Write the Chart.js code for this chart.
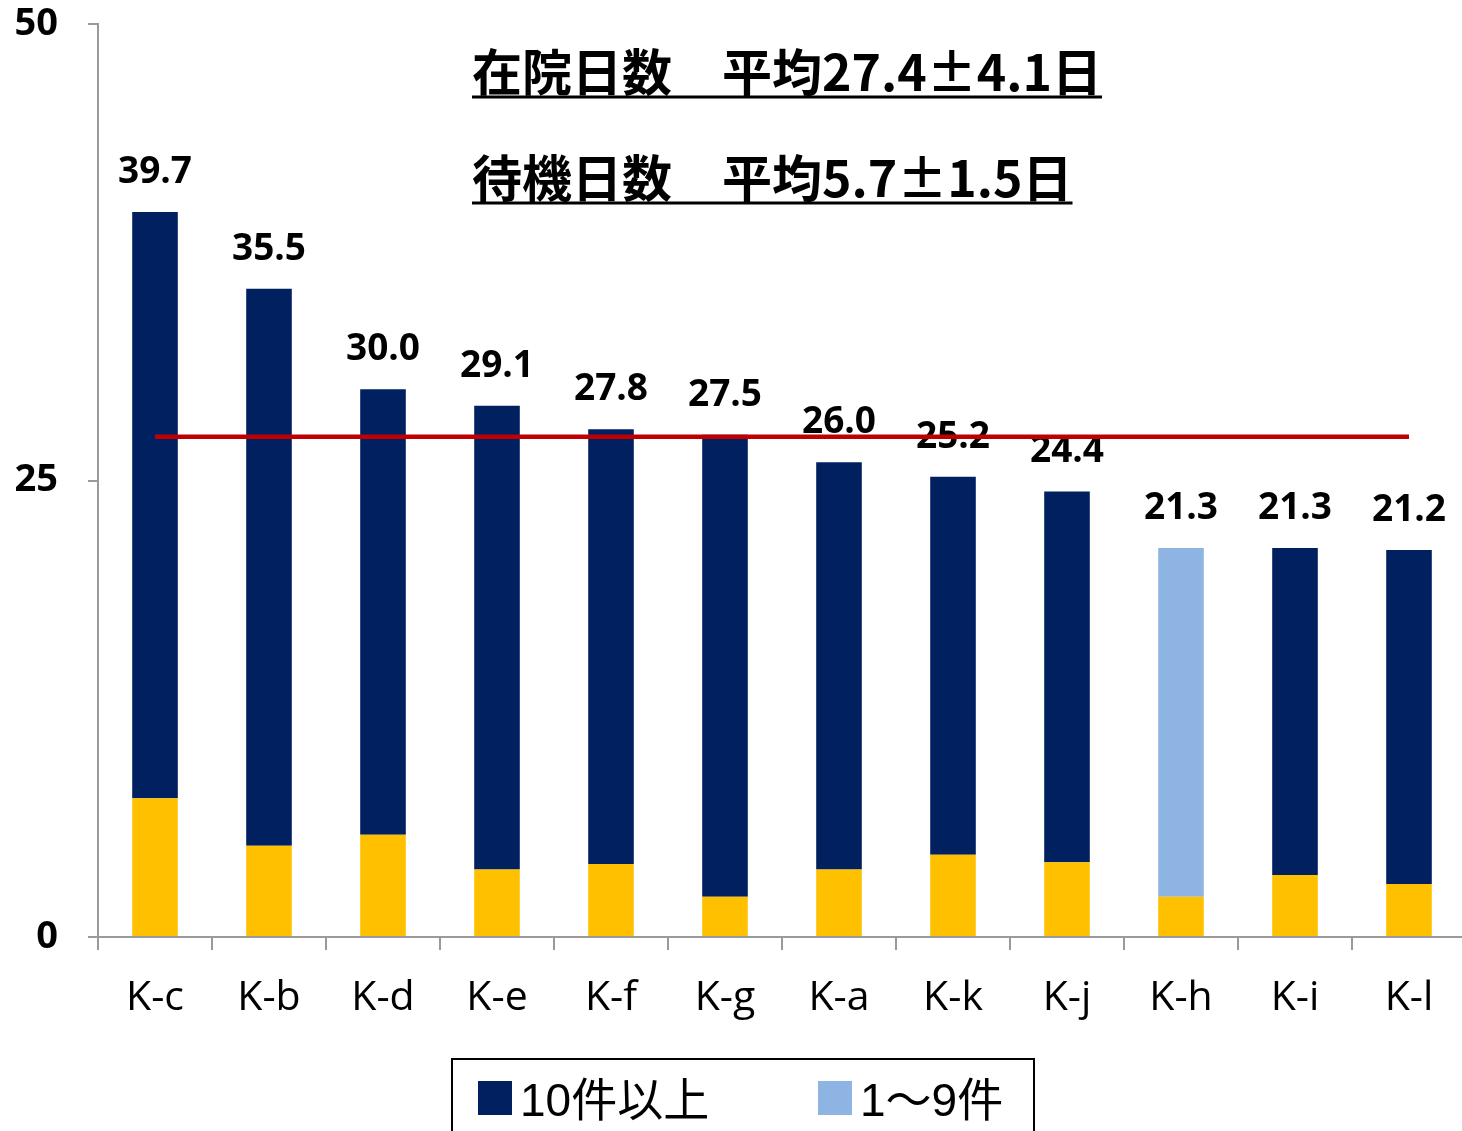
<!DOCTYPE html>
<html><head><meta charset="utf-8">
<script src="https://cdn.jsdelivr.net/npm/chart.js@4/dist/chart.umd.min.js"></script>
<style>html,body{margin:0;padding:0;background:#fff;overflow:hidden}#wrap{width:1462px;height:1131px;overflow:hidden}</style>
</head><body><div id="wrap"><canvas id="c" width="1466" height="1131"></canvas></div>
<script>
const categories = ['K-c','K-b','K-d','K-e','K-f','K-g','K-a','K-k','K-j','K-h','K-i','K-l'];
const waitingDays = [7.6, 5.0, 5.6, 3.7, 4.0, 2.2, 3.7, 4.5, 4.1, 2.2, 3.4, 2.9];
const over10 = [32.1, 30.5, 24.4, 25.4, 23.8, 25.3, 22.3, 20.7, 20.3, null, 17.9, 18.3];
const under10 = [null, null, null, null, null, null, null, null, null, 19.1, null, null];
const totals = [39.7, 35.5, 30.0, 29.1, 27.8, 27.5, 26.0, 25.2, 24.4, 21.3, 21.3, 21.2];
const meanLine = [27.4, 27.4, 27.4, 27.4, 27.4, 27.4, 27.4, 27.4, 27.4, 27.4, 27.4, 27.4];
const yTicks = [0, 25, 50];
const titleLines = ['在院日数　平均27.4±4.1日', '待機日数　平均5.7±1.5日'];
const legendLabels = ['10件以上', '1〜9件'];

const NAVY = '#002060', LIGHT = '#8EB4E3', YELLOW = '#FFC000', RED = '#C00000', AXIS = '#9a9a9a';

const labelPlugin = {
  id: 'labels',
  beforeDatasetsDraw(chart) {
    const ctx = chart.ctx;
    const y = chart.scales.y;
    const x = chart.scales.x;
    ctx.save();
    ctx.font = 'bold 37px "Open Sans", sans-serif';
    ctx.fillStyle = '#000';
    ctx.textAlign = 'center';
    ctx.textBaseline = 'alphabetic';
    totals.forEach((v, i) => {
      const px = x.getPixelForValue(i);
      const py = y.getPixelForValue(v);
      ctx.fillText(v.toFixed(1), px, py - 29);
    });
    ctx.restore();
  },
  afterDraw(chart) {
    const ctx = chart.ctx;
    ctx.save();
    // titles
    ctx.font = 'bold 50px "Noto Sans CJK JP", sans-serif';
    ctx.fillStyle = '#000';
    ctx.textAlign = 'left';
    ctx.textBaseline = 'alphabetic';
    const bases = [91, 197];
    const unders = [97, 203];
    titleLines.forEach((t, i) => {
      ctx.fillText(t, 472, bases[i]);
      const w = ctx.measureText(t).width;
      ctx.fillRect(472, unders[i] - 1.5, w, 3);
    });
    // legend
    ctx.lineWidth = 2;
    ctx.strokeStyle = '#000';
    ctx.strokeRect(452, 1059, 582, 120);
    ctx.font = '46px "Liberation Sans", "Noto Sans CJK JP", sans-serif';
    const items = [[478, NAVY, legendLabels[0]], [818, LIGHT, legendLabels[1]]];
    items.forEach(([lx, col, txt]) => {
      ctx.fillStyle = col;
      ctx.fillRect(lx, 1081, 34, 34);
      ctx.fillStyle = '#000';
      ctx.fillText(txt, lx + 42, 1116);
    });
    ctx.restore();
  }
};

new Chart(document.getElementById('c'), {
  data: {
    labels: categories,
    datasets: [
      { type: 'bar', label: '待機日数', data: waitingDays, backgroundColor: YELLOW, stack: 's', order: 1 },
      { type: 'bar', label: legendLabels[0], data: over10, backgroundColor: NAVY, stack: 's', order: 1 },
      { type: 'bar', label: legendLabels[1], data: under10, backgroundColor: LIGHT, stack: 's', order: 1 },
      { type: 'line', label: '平均', data: meanLine, borderColor: RED, borderWidth: 4.5, pointRadius: 0, fill: false, stack: 'mean', order: 0 }
    ]
  },
  options: {
    responsive: false,
    animation: false,
    devicePixelRatio: 1,
    layout: { padding: { top: 24, right: 0, left: 0, bottom: 0 } },
    datasets: { bar: { categoryPercentage: 1, barPercentage: 0.4 } },
    plugins: { legend: { display: false }, tooltip: { enabled: false } },
    scales: {
      x: {
        stacked: true,
        grid: { drawOnChartArea: false, drawTicks: true, tickLength: 13, color: AXIS, lineWidth: 2, offset: true },
        border: { color: AXIS, width: 2 },
        ticks: { font: { family: '"Open Sans", sans-serif', size: 41 }, color: '#000', padding: 24, maxRotation: 0 },
        afterFit: s => { s.height = 194; s.paddingLeft = 0; s.paddingRight = 0; }
      },
      y: {
        stacked: true,
        min: 0, max: 50,
        afterBuildTicks: s => { s.ticks = yTicks.map(v => ({ value: v })); },
        grid: { drawOnChartArea: false, drawTicks: true, tickLength: 10, color: AXIS, lineWidth: 2 },
        border: { color: AXIS, width: 2 },
        ticks: { font: { family: '"Open Sans", sans-serif', size: 38, weight: 'bold' }, color: '#000', padding: 30 },
        afterFit: s => { s.width = 98; s.paddingTop = 0; s.paddingBottom = 0; }
      }
    }
  },
  plugins: [labelPlugin]
});
</script></body></html>
